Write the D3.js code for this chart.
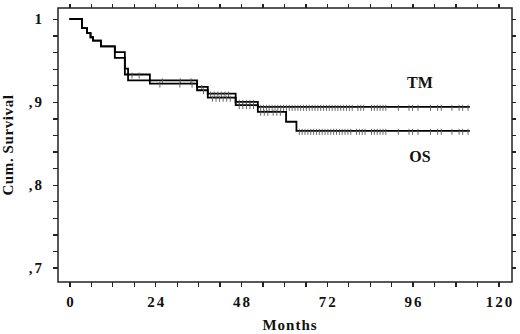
<!DOCTYPE html>
<meta charset="utf-8">
<style>
    body { margin: 0; background: #fff; }
    text { font-family: "Liberation Serif", "Times New Roman", serif; font-weight: bold; fill: #111; }
    .axis path { display: none; }
    .axis line { stroke: #222; stroke-width: 1.3; shape-rendering: crispEdges; }
    .curve { fill: none; stroke: #000; stroke-width: 1.8; }
    .censor { stroke: #555; stroke-width: 0.9; }
</style>
<body>
<script src="https://d3js.org/d3.v7.min.js"></script>
<script>
// step points: month of event, survival after it
var tmTime = [0, 3.5, 4.9, 5.9, 6.6, 8.8, 12.7, 15.5, 22.5, 35.7, 38.7, 46.5, 52.7];
var tmSurv = [1, 0.989, 0.983, 0.978, 0.974, 0.967, 0.960, 0.933, 0.926, 0.918, 0.910, 0.900, 0.894];
var osTime = [0, 3.5, 4.9, 5.9, 6.6, 8.8, 12.7, 15.5, 16.4, 22.5, 35.7, 38.7, 46.5, 52.7, 60.6, 63.5];
var osSurv = [1, 0.989, 0.983, 0.978, 0.974, 0.967, 0.953, 0.940, 0.926, 0.922, 0.914, 0.905, 0.896, 0.888, 0.876, 0.865];
var lastMonth = 112;

// censored observations (months)
var tmCensor = [17.5, 19.5, 26, 31, 34, 37, 39.5, 40.5, 41.5, 42.5, 43.5, 44.5, 47.5, 48.5, 49.5, 50.5, 51.5,
    53.5, 54.3, 55.1, 55.9, 56.7, 57.5, 58.3, 59.1, 59.9, 60.7, 61.5, 62.3, 63.1, 63.9, 64.7, 65.5, 66.3,
    67.1, 67.9, 68.7, 69.5, 70.3, 71.1, 71.9, 72.7, 73.5, 74.3, 75.1, 75.9, 76.7, 77.5, 78.3, 79.1, 80.7,
    81.5, 82.3, 84.5, 85.3, 86.1, 86.9, 87.7, 88.5, 92, 95, 96, 97.5, 101, 103, 104, 107, 109, 110, 111.5];
var osCensor = [25.3, 30.9, 34.3, 37.5, 40, 41, 42, 43, 44, 45, 47.5, 48.5, 49.5, 50.5, 51.5, 53.5, 54.5,
    55.5, 57, 58, 59, 64.3, 65.1, 65.9, 66.7, 67.5, 68.3, 69.1, 69.9, 70.7, 71.5, 72.3, 73.1, 73.9, 74.7,
    75.5, 76.3, 77.1, 77.9, 78.7, 80.3, 81.1, 81.9, 82.7, 84.5, 85.3, 86.1, 86.9, 87.7, 88.5, 92, 95, 96,
    97.5, 101, 103, 104, 107, 109, 110, 111.5];

var xTicks = [0, 24, 48, 72, 96, 120];
var yTicks = [0.7, 0.8, 0.9, 1];
var yTickLabels = [",7", ",8", ",9", "1"];

var width = 520, height = 334;

var svg = d3.select("body").append("svg")
    .attr("width", width)
    .attr("height", height);

var x = d3.scaleLinear().domain([-3.2, 123.8]).range([58, 512]);
var y = d3.scaleLinear().domain([0.6825, 1.0133]).range([282, 8]);

var x0 = x.range()[0], x1 = x.range()[1], y0 = y.range()[0], y1 = y.range()[1];

// frame
svg.append("rect")
    .attr("x", x0).attr("y", y1)
    .attr("width", x1 - x0).attr("height", y0 - y1)
    .attr("fill", "none")
    .attr("stroke", "#222")
    .attr("stroke-width", 1.5);

var xMinor = d3.range(0, 121, 6);
var yMinor = d3.range(0.7, 1.001, 0.02);

function xLabel(d) { return xTicks.indexOf(d) >= 0 ? d : ""; }
function yLabel(d) {
    var i = yTicks.findIndex(function (v) { return Math.abs(v - d) < 1e-6; });
    return i >= 0 ? yTickLabels[i] : "";
}

var gx = svg.append("g").attr("class", "axis")
    .attr("transform", "translate(0," + y0 + ")")
    .call(d3.axisBottom(x).tickValues(xMinor).tickSize(5).tickPadding(9).tickFormat(xLabel));
gx.selectAll("text").attr("font-size", "15px").attr("letter-spacing", "2px").attr("dx", "1px");

svg.append("g").attr("class", "axis")
    .attr("transform", "translate(0," + y1 + ")")
    .call(d3.axisTop(x).tickValues(xMinor).tickSize(4).tickFormat(""));

var gy = svg.append("g").attr("class", "axis")
    .attr("transform", "translate(" + x0 + ",0)")
    .call(d3.axisLeft(y).tickValues(yMinor).tickSize(5).tickPadding(9).tickFormat(yLabel));
gy.selectAll("text").attr("font-size", "15px").attr("letter-spacing", "2px");

svg.append("g").attr("class", "axis")
    .attr("transform", "translate(" + x1 + ",0)")
    .call(d3.axisRight(y).tickValues(yMinor).tickSize(4).tickFormat(""));

// curves
var line = d3.line()
    .x(function (d) { return x(d[0]); })
    .y(function (d) { return y(d[1]); })
    .curve(d3.curveStepAfter);

function pts(t, s) {
    var p = t.map(function (d, i) { return [d, s[i]]; });
    p.push([lastMonth, s[s.length - 1]]);
    return p;
}

function survAt(t, s, m) {
    var v = s[0];
    t.forEach(function (d, i) { if (d <= m) v = s[i]; });
    return v;
}

[[tmTime, tmSurv, tmCensor], [osTime, osSurv, osCensor]].forEach(function (c) {
    svg.append("path")
        .attr("class", "curve")
        .attr("d", line(pts(c[0], c[1])));

    svg.append("g").selectAll("line")
        .data(c[2])
        .join("line")
        .attr("class", "censor")
        .attr("x1", function (d) { return x(d); })
        .attr("x2", function (d) { return x(d); })
        .attr("y1", function (d) { return y(survAt(c[0], c[1], d)) - 2; })
        .attr("y2", function (d) { return y(survAt(c[0], c[1], d)) + 4; });
});

// curve labels
svg.append("text")
    .attr("x", 420).attr("y", 88)
    .attr("text-anchor", "middle")
    .attr("font-size", "16px")
    .text("TM");

svg.append("text")
    .attr("x", 420).attr("y", 162)
    .attr("text-anchor", "middle")
    .attr("font-size", "16px")
    .text("OS");

// axis titles
svg.append("text")
    .attr("x", 290).attr("y", 330)
    .attr("text-anchor", "middle")
    .attr("font-size", "15px")
    .attr("letter-spacing", "1px")
    .text("Months");

svg.append("text")
    .attr("transform", "translate(13,145) rotate(-90)")
    .attr("text-anchor", "middle")
    .attr("font-size", "15px")
    .attr("letter-spacing", "0.6px")
    .text("Cum. Survival");
</script>
</body>
